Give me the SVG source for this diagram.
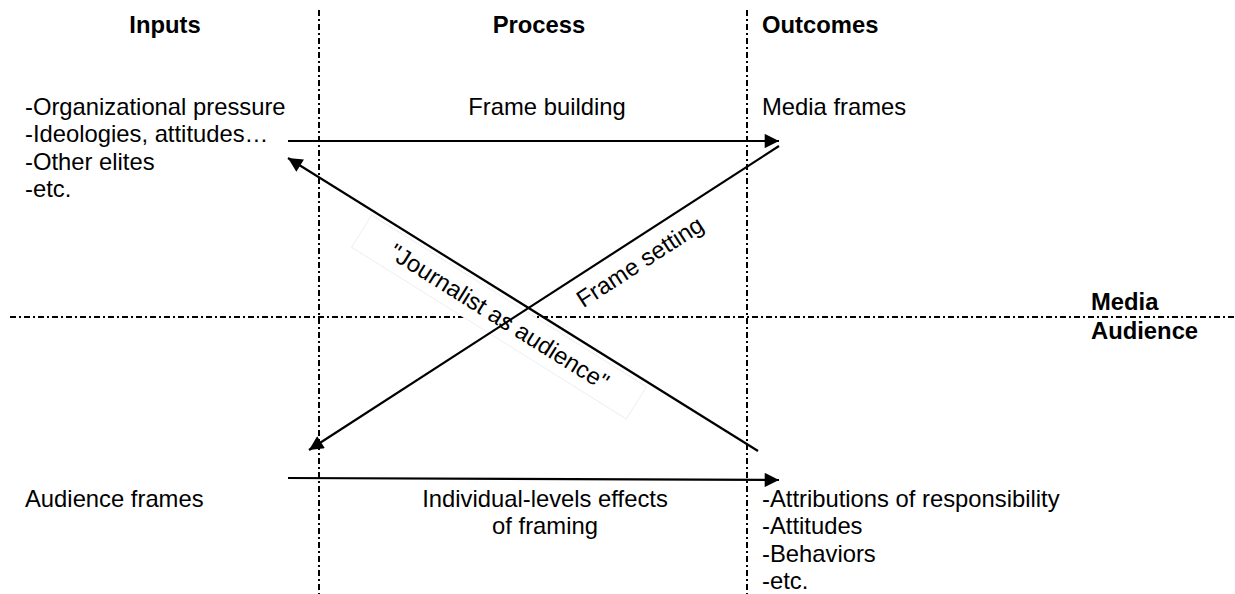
<svg xmlns="http://www.w3.org/2000/svg" width="1235" height="594" viewBox="0 0 1235 594">
<style>
text{font-family:"Liberation Sans",Arial,sans-serif;font-size:23.8px;fill:#000}
.b{font-weight:bold}
.m{text-anchor:middle}
.dd{stroke:#000;stroke-width:2;stroke-dasharray:6 3 2 3;fill:none}
.ar{stroke:#000;stroke-width:2.2;fill:none;marker-end:url(#ah)}
.lb{fill:#fff;stroke:#f0f0f0;stroke-width:1}
</style>
<defs>
<marker id="ah" viewBox="0 0 10 10" refX="10" refY="5" markerWidth="7.3" markerHeight="6.5" markerUnits="strokeWidth" orient="auto">
<path d="M0,0 L10,5 L0,10 z" fill="#000"/>
</marker>
</defs>
<g id="grid">
<line class="dd" x1="319" y1="10" x2="319" y2="594"/>
<line class="dd" x1="747" y1="10" x2="747" y2="594"/>
<line class="dd" x1="10" y1="317" x2="1235" y2="317"/>
</g>
<g id="headers">
<text class="b m" x="165" y="33">Inputs</text>
<text class="b m" x="539" y="33">Process</text>
<text class="b" x="762" y="33">Outcomes</text>
<text class="b" x="1091" y="310">Media</text>
<text class="b" x="1091" y="339">Audience</text>
</g>
<g id="inputs-media">
<text x="25" y="115">-Organizational pressure</text>
<text x="25" y="142">-Ideologies, attitudes…</text>
<text x="25" y="170">-Other elites</text>
<text x="25" y="197">-etc.</text>
</g>
<g id="frame-building"><text class="m" x="547" y="115">Frame building</text></g>
<g id="media-frames"><text x="762" y="115">Media frames</text></g>
<g id="audience-frames"><text x="25" y="507">Audience frames</text></g>
<g id="individual-effects">
<text class="m" x="545" y="507">Individual-levels effects</text>
<text class="m" x="545" y="534">of framing</text>
</g>
<g id="outcomes-audience">
<text x="762" y="507">-Attributions of responsibility</text>
<text x="762" y="534">-Attitudes</text>
<text x="762" y="562">-Behaviors</text>
<text x="762" y="589">-etc.</text>
</g>
<g id="journalist-label" transform="translate(499,317) rotate(32)">
<rect class="lb" x="-162" y="-19" width="324" height="38"/>
<text class="m" x="0" y="8">"Journalist as audience"</text>
</g>
<g id="frame-setting-label" transform="translate(640,262) rotate(-33)">
<text class="m" x="0" y="8">Frame setting</text>
</g>
<g id="connectors">
<line class="ar" x1="288" y1="141" x2="779" y2="141"/>
<line class="ar" x1="779" y1="146" x2="309" y2="450"/>
<line class="ar" x1="758" y1="451" x2="288" y2="158"/>
<line class="ar" x1="288" y1="478" x2="779" y2="480"/>
</g>
</svg>
